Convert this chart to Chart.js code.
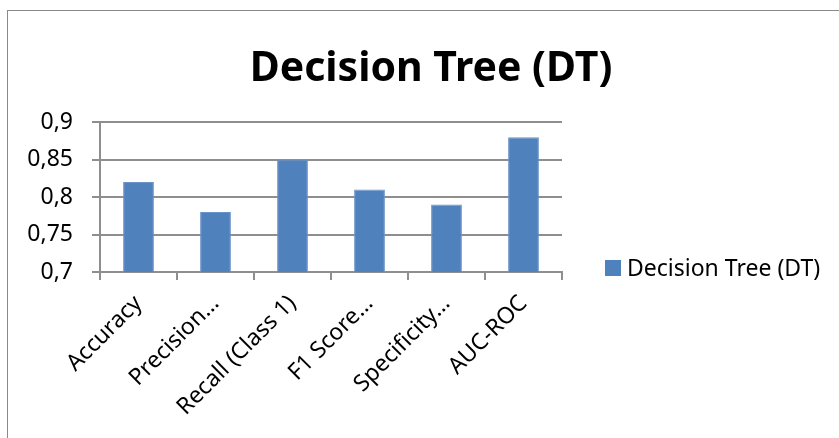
<!DOCTYPE html>
<html>
<head>
<meta charset="utf-8">
<script src="https://cdn.jsdelivr.net/npm/chart.js@4"></script>
<style>
  html, body { margin: 0; padding: 0; background: #fff; overflow: hidden; }
  #frame { position: absolute; left: 7px; top: 10px; width: 846px; height: 430px; border: 1px solid #8a8a8a; }
  #wrap { position: relative; width: 846px; height: 430px; }
</style>
</head>
<body>
<div id="frame"><div id="wrap"><canvas id="chart"></canvas></div></div>
<script>
const categories = ['Accuracy', 'Precision…', 'Recall (Class 1)', 'F1 Score…', 'Specificity…', 'AUC-ROC'];
const dtValues = [0.82, 0.78, 0.85, 0.81, 0.79, 0.88];
const seriesName = 'Decision Tree (DT)';
const yTicks = [0.7, 0.75, 0.8, 0.85, 0.9];

const FONT = "'Noto Sans', 'Open Sans', sans-serif";
const gridColor = '#8e8e8e';

// legend drawn by hand so it sits where the original one does
const sideLegend = {
    id: 'sideLegend',
    afterDraw(chart) {
        const ctx = chart.ctx;
        const ds = chart.data.datasets[0];
        const x = 597, y = 257;
        ctx.save();
        ctx.fillStyle = ds.backgroundColor;
        ctx.fillRect(x, y - 8, 16, 16);
        ctx.fillStyle = '#000';
        ctx.font = "23px " + FONT;
        ctx.textBaseline = 'middle';
        ctx.fillText(ds.label, x + 22, y + 1);
        ctx.restore();
    }
};

const ctx = document.getElementById('chart').getContext('2d');
new Chart(ctx, {
    type: 'bar',
    data: {
        labels: categories,
        datasets: [
            { label: seriesName, data: dtValues, backgroundColor: '#4f81bd', borderColor: '#6a94c8', borderWidth: 1, barPercentage: 0.4, categoryPercentage: 1 }
        ]
    },
    options: {
        responsive: true,
        maintainAspectRatio: false,
        animation: false,
        layout: { padding: 0 },
        scales: {
            x: {
                offset: true,
                grid: { display: true, drawOnChartArea: false, color: gridColor, lineWidth: 2, tickLength: 8, offset: true },
                border: { color: gridColor, width: 2 },
                ticks: { color: '#000', font: { family: FONT, size: 23 }, minRotation: 45, maxRotation: 45, padding: 10 },
                afterFit: s => { s.height = 430 - 261; }
            },
            y: {
                min: 0.7, max: 0.9,
                afterBuildTicks: s => { s.ticks = yTicks.map(v => ({ value: v })); },
                grid: { color: gridColor, lineWidth: 2, tickLength: 8 },
                border: { color: gridColor, width: 2 },
                ticks: {
                    color: '#000', font: { family: FONT, size: 23 }, padding: 19,
                    callback: v => (Math.round(v * 100) / 100).toString().replace('.', ',')
                },
                afterFit: s => { s.width = 92; }
            },
            // empty right-hand box that keeps room for the legend
            side: {
                position: 'right',
                grid: { display: false },
                border: { display: false },
                ticks: { display: false },
                afterFit: s => { s.width = 846 - 554; }
            }
        },
        plugins: {
            legend: { display: false },
            tooltip: { enabled: false },
            title: {
                display: true, text: seriesName, color: '#000',
                font: { family: FONT, size: 41, weight: 'bold' },
                padding: { top: 34, bottom: 28 }
            }
        }
    },
    plugins: [sideLegend]
});
</script>
</body>
</html>
